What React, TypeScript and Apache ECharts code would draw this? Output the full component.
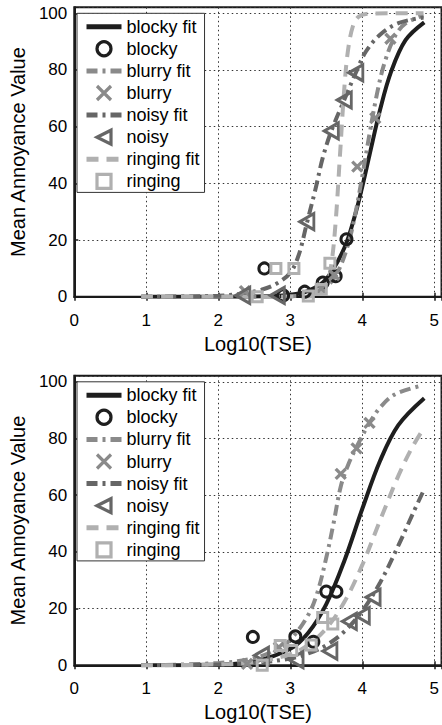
import React, { useEffect, useRef } from "react";
import * as echarts from "echarts";

// ---------- data ----------
const legendNames = ["blocky fit", "blocky", "blurry fit", "blurry", "noisy fit", "noisy", "ringing fit", "ringing"];
const xTickLabels = ["0", "1", "2", "3", "4", "5"];
const yTickLabels = ["0", "20", "40", "60", "80", "100"];

// top panel
const blockyFitTop = [[0.93, 0], [1.5, 0], [2, 0.01], [2.5, 0.07], [3, 0.7], [3.25, 2.1], [3.5, 6.3], [3.75, 17.2], [3.9, 28.9], [4, 38.9], [4.1, 50], [4.25, 66.3], [4.4, 79.4], [4.6, 90.5], [4.86, 96.8]];
const blockyTop = [[2.64, 10], [2.9, 0.5], [3.2, 1.8], [3.45, 5], [3.63, 7.3], [3.78, 20.3]];
const blurryFitTop = [[0.93, 0], [2, 0], [2.5, 0.01], [3, 0.18], [3.25, 0.8], [3.5, 3.6], [3.65, 8.3], [3.8, 18.2], [3.9, 28.9], [4, 42.6], [4.1, 57.4], [4.2, 71.1], [4.3, 81.8], [4.45, 91.7], [4.6, 96.4], [4.85, 99.2]];
const blurryTop = [[2.37, 2], [3.43, 3], [3.61, 7.7], [3.93, 45.9], [4.18, 63], [4.39, 91]];
const noisyFitTop = [[0.93, 0], [1.5, 0.1], [2.0, 0.4], [2.3, 1.0], [2.6, 2.5], [2.8, 4.5], [3.0, 8.5], [3.12, 15], [3.23, 26], [3.35, 38], [3.45, 49], [3.57, 58.5], [3.75, 69.5], [3.91, 79], [4.05, 86.5], [4.25, 92.5], [4.5, 96.5], [4.85, 98.5]];
const noisyTop = [[2.34, 0.5], [2.82, 0.5], [3.23, 26.5], [3.57, 58.5], [3.75, 69.4], [3.91, 79]];
const ringingFitTop = [[0.93, 0], [2, 0], [3, 0], [3.3, 0.13], [3.4, 0.7], [3.5, 3.8], [3.57, 11.5], [3.63, 26.5], [3.69, 50], [3.75, 73.5], [3.8, 86.7], [3.87, 95.5], [3.95, 98.8], [4.1, 99.9], [4.85, 100]];
const ringingTop = [[2.54, 0], [2.8, 10], [3.05, 10], [3.25, 0.3], [3.43, 2.6], [3.55, 11.8]];

// bottom panel
const blockyFitBot = [[0.93, 0], [2, 0.3], [2.5, 1.35], [3, 5.8], [3.25, 11.5], [3.5, 21.6], [3.75, 36.8], [4, 55.2], [4.25, 72.3], [4.5, 84.7], [4.86, 94.2]];
const blockyBot = [[2.48, 10], [3.07, 10.2], [3.32, 8.3], [3.5, 26], [3.64, 26]];
const blurryFitBot = [[0.93, 0], [2, 0.8], [2.5, 2.5], [2.8, 5.5], [3, 9], [3.25, 17.8], [3.38, 26], [3.5, 38], [3.6, 50], [3.7, 63], [3.8, 70.5], [3.92, 77], [4.1, 85.5], [4.25, 91], [4.45, 95.5], [4.8, 98.5]];
const blurryBot = [[2.4, 0.5], [2.84, 6.3], [3.7, 67.5], [3.92, 76.5], [4.1, 85.5]];
const noisyFitBot = [[0.93, 0], [2, 0.26], [2.5, 0.8], [3, 2.4], [3.25, 4.2], [3.5, 7.1], [3.75, 11.9], [4, 19.2], [4.25, 29.3], [4.5, 42.2], [4.7, 53.4], [4.86, 62.1]];
const noisyBot = [[2.6, 3.5], [3.08, 2], [3.55, 5], [3.82, 15.5], [4, 17.5], [4.15, 24]];
const ringingFitBot = [[0.93, 0], [2, 0.3], [2.5, 1.1], [3, 3.9], [3.25, 7.2], [3.5, 13], [3.75, 22.3], [4, 35.4], [4.25, 51.3], [4.5, 66.8], [4.7, 77.2], [4.86, 83.8]];
const ringingBot = [[2.61, 0], [2.86, 7], [3.02, 5.2], [3.29, 7.2], [3.45, 16.9], [3.59, 14.6]];

// ---------- styles ----------
const FONT = "Liberation Sans, Arial, Helvetica, sans-serif";
const C_BLOCKY = "#1e1e1e";
const C_BLURRY = "#8a8a8a";
const C_NOISY = "#666666";
const C_RINGING = "#b0b0b0";
const DASHDOT = [11, 5, 3, 5];
const DASHED = [12, 8];
const X_PATH = "path://M0,0L10,10M10,0L0,10";
const TRI_PATH = "path://M0,5L10,0L10,10Z";
const SQ_PATH = "path://M0,0H10V10H0Z";

function fitSeries(name: string, data: number[][], color: string, type: any, idx: number) {
  return {
    name,
    type: "line",
    xAxisIndex: idx,
    yAxisIndex: idx,
    data,
    symbol: "none",
    smooth: 0.35,
    lineStyle: { color, width: 4, type },
    itemStyle: { color },
    z: 2,
  };
}

function markSeries(name: string, data: number[][], color: string, symbol: string, size: any, bw: number, idx: number) {
  return {
    name,
    type: "scatter",
    xAxisIndex: idx,
    yAxisIndex: idx,
    data,
    symbol,
    symbolSize: size,
    itemStyle: { color: "rgba(0,0,0,0)", borderColor: color, borderWidth: bw, opacity: 1 },
    z: 3,
  };
}

function panelSeries(idx: number, d: any) {
  return [
    fitSeries("blocky fit", d.bf, C_BLOCKY, "solid", idx),
    markSeries("blocky", d.b, C_BLOCKY, "circle", 11, 3, idx),
    fitSeries("blurry fit", d.uf, C_BLURRY, DASHDOT, idx),
    markSeries("blurry", d.u, C_BLURRY, X_PATH, 10, 3.4, idx),
    fitSeries("noisy fit", d.nf, C_NOISY, DASHDOT, idx),
    markSeries("noisy", d.n, C_NOISY, TRI_PATH, [14, 16], 3, idx),
    fitSeries("ringing fit", d.rf, C_RINGING, DASHED, idx),
    markSeries("ringing", d.r, C_RINGING, SQ_PATH, 10, 3, idx),
  ];
}

const PX_PER_X = 73.3;
const X_MAX = 5.1;
const Y_MAX = 102.1;
const GRID_LEFT = 71.8;
const GRID_W = X_MAX * PX_PER_X;
const GRID_H = 289.5;
const TOPS = [7.3, 375.8];

function xAxisBottom(gridIndex: number) {
  return {
    type: "value",
    gridIndex,
    position: "bottom",
    min: 0,
    max: X_MAX,
    interval: 1,
    name: "Log10(TSE)",
    nameLocation: "middle",
    nameGap: 37,
    nameTextStyle: { fontFamily: FONT, fontSize: 20, color: "#000" },
    axisLine: { show: true, onZero: false, lineStyle: { color: "#1a1a1a", width: 2 } },
    axisTick: { show: true, inside: true, length: 4, lineStyle: { color: "#1a1a1a", width: 1.5 } },
    axisLabel: {
      show: true,
      margin: 15,
      fontFamily: FONT,
      fontSize: 17,
      color: "#000",
      showMaxLabel: false,
      formatter: (v: number) => (Number.isInteger(v) ? xTickLabels[v] ?? "" : ""),
    },
    splitLine: { show: true, lineStyle: { color: "#333", width: 1, type: [1.5, 3] } },
  };
}

function xAxisTop(gridIndex: number) {
  return {
    type: "value",
    gridIndex,
    position: "top",
    min: 0,
    max: X_MAX,
    interval: 1,
    axisLine: { show: false },
    axisTick: { show: true, inside: true, length: 4, lineStyle: { color: "#1a1a1a", width: 1.5 } },
    axisLabel: { show: false },
    splitLine: { show: false },
  };
}

function yAxis(gridIndex: number) {
  return {
    type: "value",
    gridIndex,
    min: 0,
    max: Y_MAX,
    interval: 20,
    name: "Mean Annoyance Value",
    nameLocation: "middle",
    nameGap: 44,
    nameTextStyle: { fontFamily: FONT, fontSize: 20, color: "#000" },
    axisLine: { show: true, onZero: false, lineStyle: { color: "#1a1a1a", width: 2 } },
    axisTick: { show: true, inside: true, length: 4, lineStyle: { color: "#1a1a1a", width: 1.5 } },
    axisLabel: {
      show: true,
      margin: 7,
      fontFamily: FONT,
      fontSize: 17,
      color: "#000",
      showMaxLabel: false,
      formatter: (v: number) => (v % 20 === 0 ? yTickLabels[v / 20] ?? "" : ""),
    },
    splitLine: { show: true, lineStyle: { color: "#333", width: 1, type: [1.5, 3] } },
  };
}

function legend(top: number) {
  return {
    orient: "vertical",
    left: 77,
    top,
    data: legendNames.map((n) =>
      n.endsWith(" fit")
        ? { name: n, itemStyle: { opacity: 0 }, lineStyle: { width: 5 } }
        : { name: n, itemStyle: { borderWidth: 3.2 } }
    ),
    itemWidth: 35,
    itemHeight: 14,
    itemGap: 4.1,
    padding: [4.4, 5, 2, 7],
    borderColor: "#333",
    borderWidth: 1,
    backgroundColor: "#fff",
    selectedMode: false,
    textStyle: { fontFamily: FONT, fontSize: 18, color: "#000" },
  };
}

export default function App() {
  const ref = useRef<HTMLDivElement>(null);
  useEffect(() => {
    if (!ref.current) return;
    const chart = echarts.init(ref.current, undefined, { renderer: "svg" });
    chart.setOption({
      animation: false,
      backgroundColor: "#fff",
      grid: TOPS.map((t) => ({
        left: GRID_LEFT,
        top: t,
        width: GRID_W,
        height: GRID_H,
        show: true,
        borderColor: "#1a1a1a",
        borderWidth: 2,
        backgroundColor: "transparent",
      })),
      legend: [legend(13.3), legend(381.8)],
      xAxis: [xAxisBottom(0), xAxisBottom(1), xAxisTop(0), xAxisTop(1)],
      yAxis: [yAxis(0), yAxis(1)],
      series: [
        ...panelSeries(0, { bf: blockyFitTop, b: blockyTop, uf: blurryFitTop, u: blurryTop, nf: noisyFitTop, n: noisyTop, rf: ringingFitTop, r: ringingTop }),
        ...panelSeries(1, { bf: blockyFitBot, b: blockyBot, uf: blurryFitBot, u: blurryBot, nf: noisyFitBot, n: noisyBot, rf: ringingFitBot, r: ringingBot }),
      ],
    });
    return () => chart.dispose();
  }, []);
  return (
    <div
      ref={ref}
      style={{ position: "fixed", left: 0, top: 0, width: 442, height: 725, background: "#fff" }}
    />
  );
}
